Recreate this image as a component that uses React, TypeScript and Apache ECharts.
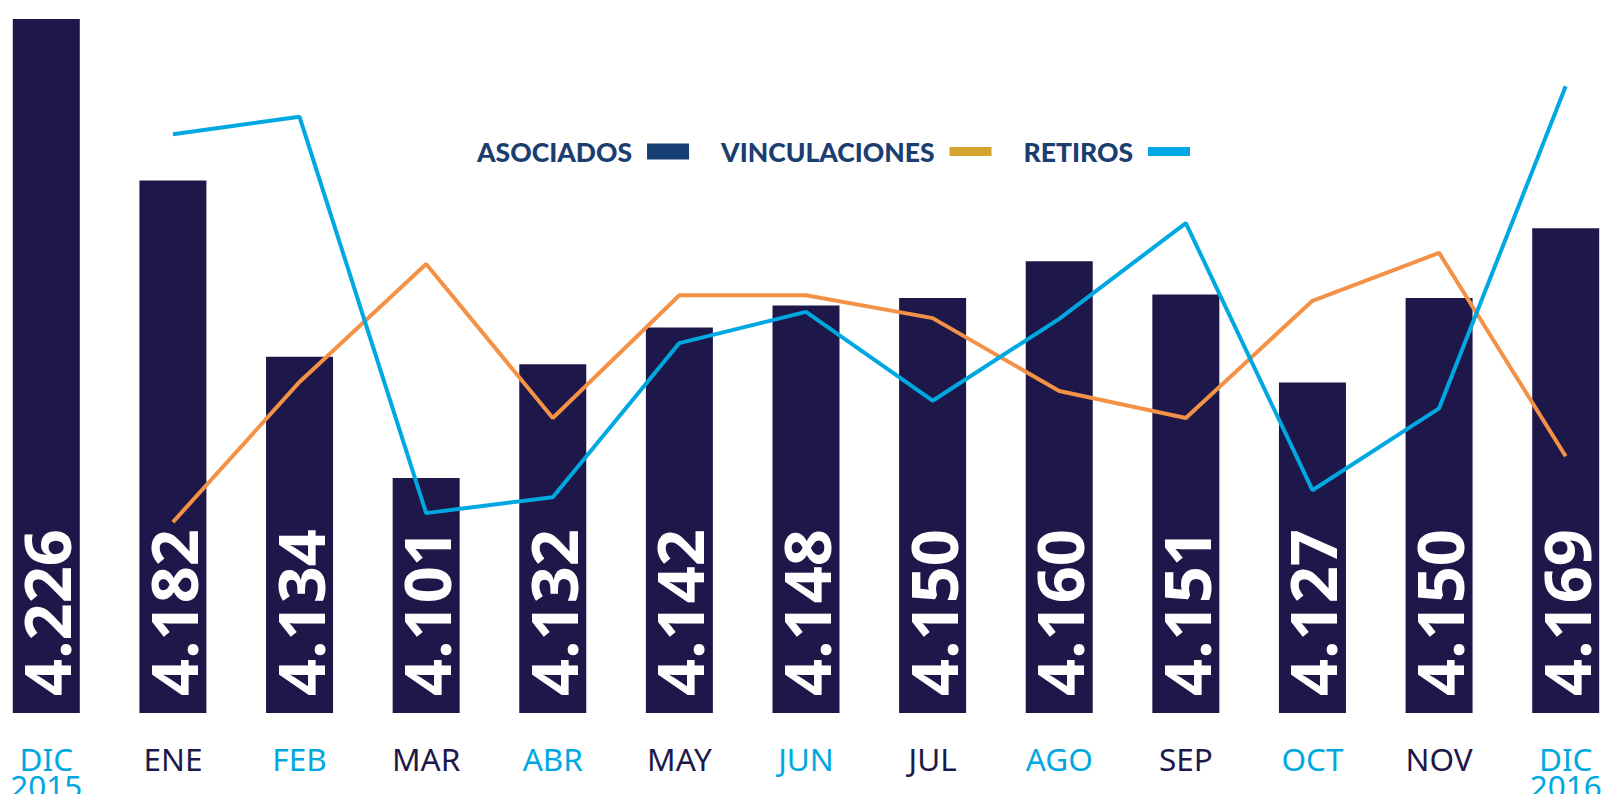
import React, { useEffect, useRef } from 'react';
import * as echarts from 'echarts';

const categories = ['DIC\n2015', 'ENE', 'FEB', 'MAR', 'ABR', 'MAY', 'JUN', 'JUL', 'AGO', 'SEP', 'OCT', 'NOV', 'DIC\n2016'];
const labelTones = ['b', 'd', 'b', 'd', 'b', 'd', 'b', 'd', 'b', 'd', 'b', 'd', 'b'];
const asociados = [4.226, 4.182, 4.134, 4.101, 4.132, 4.142, 4.148, 4.15, 4.16, 4.151, 4.127, 4.15, 4.169];
const vinculaciones = [null, 27.5, 47.7, 64.7, 42.5, 60.2, 60.2, 56.9, 46.4, 42.5, 59.4, 66.3, 37.0];
const retiros = [null, 83.4, 85.9, 28.8, 31.1, 53.3, 57.8, 45.0, 56.8, 70.6, 32.1, 43.9, 90.3];
const legendNames = ['ASOCIADOS', 'VINCULACIONES', 'RETIROS'];

const BAR = '#1D1849';
const BLUE = '#00A8E1';
const ORANGE = '#F39247';
const LEGEND_TEXT = '#1B3D70';

const OFFSET_X = 17;
const lineIcon = 'path://M0,0L42,0M0,3.5L42,3.5L42,12.5L0,12.5ZM0,16L42,16';

export default function App() {
  const ref = useRef<HTMLDivElement>(null);
  useEffect(() => {
    if (!ref.current) return;
    const chart = echarts.init(ref.current, undefined, { renderer: 'svg' });
    const xData = categories.map((c, i) => ({
      value: c,
      textStyle: { color: labelTones[i] === 'b' ? BLUE : BAR },
    }));
    chart.setOption({
      animation: false,
      backgroundColor: '#ffffff',
      legend: {
        left: 477 + OFFSET_X,
        top: 138,
        padding: 0,
        align: 'right',
        itemGap: 32,
        itemWidth: 42,
        itemHeight: 16,
        selectedMode: false,
        textStyle: {
          fontFamily: 'Lato',
          fontWeight: 900,
          fontSize: 26.5,
          color: LEGEND_TEXT,
          padding: [0, 10, 0, 0],
        },
        data: [
          { name: legendNames[0], icon: 'rect', itemStyle: { color: '#173F74' } },
          { name: legendNames[1], icon: lineIcon, itemStyle: { color: '#D4A42C' } },
          { name: legendNames[2], icon: lineIcon, itemStyle: { color: '#00A9E6' } },
        ],
      },
      grid: { left: 0, right: 0, top: 19, bottom: 81, containLabel: false, outerBoundsMode: 'none' },
      xAxis: {
        type: 'category',
        data: xData,
        boundaryGap: true,
        axisLine: { show: false },
        axisTick: { show: false },
        splitLine: { show: false },
        axisLabel: {
          interval: 0,
          margin: 32,
          verticalAlign: 'top',
          fontFamily: 'Noto Sans',
          fontSize: 31.5,
          lineHeight: 27,
          color: BAR,
          hideOverlap: false,
        },
      },
      yAxis: [
        { type: 'value', min: 4.037, max: 4.226, show: false, splitLine: { show: false } },
        { type: 'value', min: 0, max: 100, show: false, splitLine: { show: false } },
      ],
      series: [
        {
          name: legendNames[0],
          type: 'bar',
          data: asociados,
          barWidth: 67,
          itemStyle: { color: BAR },
          label: {
            show: true,
            position: 'insideBottom',
            rotate: 90,
            align: 'left',
            verticalAlign: 'middle',
            distance: 17,
            color: '#ffffff',
            fontFamily: 'Noto Sans',
            fontWeight: 'bold',
            fontSize: 65,
            formatter: (p: any) => Number(p.value).toFixed(3),
          },
        },
        {
          name: legendNames[1],
          type: 'line',
          yAxisIndex: 1,
          data: vinculaciones,
          symbol: 'none',
          lineStyle: { color: ORANGE, width: 4 },
          itemStyle: { color: ORANGE },
        },
        {
          name: legendNames[2],
          type: 'line',
          yAxisIndex: 1,
          data: retiros,
          symbol: 'none',
          lineStyle: { color: BLUE, width: 4 },
          itemStyle: { color: BLUE },
        },
      ],
    });
    return () => chart.dispose();
  }, []);
  return (
    <div style={{ position: 'fixed', left: 0, top: 0, width: 1604, height: 794, overflow: 'hidden', background: '#fff' }}>
      <div
        ref={ref}
        style={{ position: 'absolute', left: -OFFSET_X, top: 0, width: 1604 + OFFSET_X + 25, height: 794 }}
      />
    </div>
  );
}
